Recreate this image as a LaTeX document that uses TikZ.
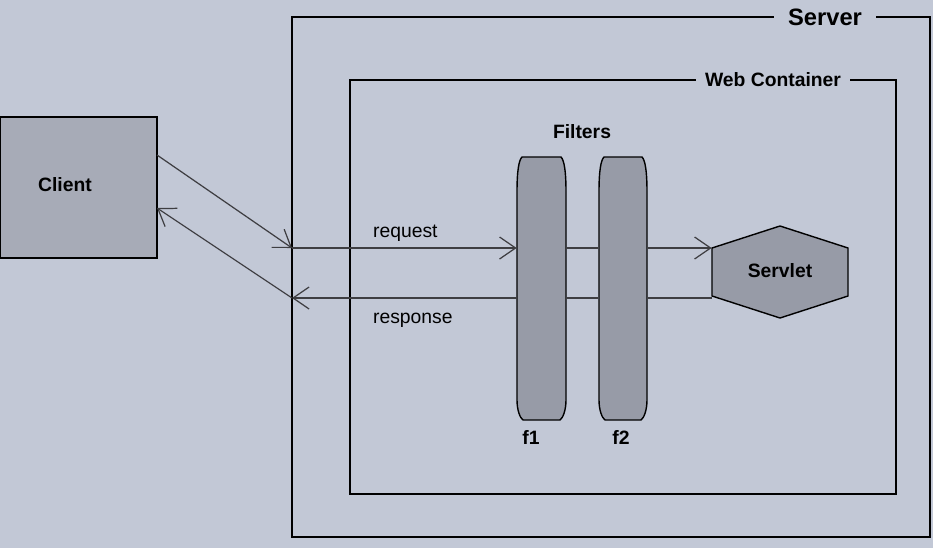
\documentclass[tikz,border=0pt]{standalone}
\usepackage{fontspec}
\setmainfont{Liberation Sans}
\usepackage{tikz}
\usetikzlibrary{arrows.meta,positioning}
\usepackage{xcolor}
\definecolor{bgblue}{RGB}{194,200,214}
\definecolor{clientgray}{RGB}{167,171,183}
\definecolor{filtergray}{RGB}{151,155,167}
\definecolor{linegray}{RGB}{62,62,66}
\tikzstyle{arrow} = [->,>={Straight Barb[length=3.2mm,width=4.4mm]},color=linegray,line width=0.7pt]
\tikzstyle{wire} = [color=linegray,line width=0.7pt]
\tikzstyle{container} = [rectangle, draw=black, line width=0.8pt, inner sep=0pt]
\tikzstyle{boldtext} = [font=\bfseries\fontsize{11}{13}\selectfont, inner sep=1pt]
\tikzstyle{plaintext} = [font=\fontsize{11}{13}\selectfont, inner sep=1pt]
\tikzstyle{boxlabel} = [boldtext, fill=bgblue, inner ysep=2pt]
\tikzstyle{filterbox} = [rectangle, minimum width=0.98cm, minimum height=5.26cm, inner sep=0pt]
\tikzstyle{filterbody} = [draw=black, line width=0.8pt, fill=filtergray]

\begin{document}
\begin{tikzpicture}[x=0.02cm, y=-0.02cm]
    % Background
    \fill[bgblue] (0,0) rectangle (933,548);
    \useasboundingbox (0,0) rectangle (933,548);

    % Server and web container
    \node[container, minimum width=12.76cm, minimum height=10.4cm] (server) at (611,277) {};
    \node[container, minimum width=10.92cm, minimum height=8.28cm] (web) at (623,287) {};
    \node[boxlabel, font=\bfseries\fontsize{13.5}{16}\selectfont, inner xsep=8pt] (serverlabel) at (825,17) {Server};
    \node[boxlabel, inner xsep=5pt] (weblabel) at (773,80) {Web Container};

    % Client
    \node[container, fill=clientgray, minimum width=3.14cm, minimum height=2.82cm] (client) at (78.5,187.5) {};
    \node[boldtext] (clientlabel) at (65,185) {Client};

    % Filters
    \node[boldtext] (filters) at (582,132) {Filters};
    \node[filterbox] (f1) at (541.5,288.5) {};
    \node[filterbox] (f2) at (623,288.5) {};
    \path[filterbody] (517,192) .. controls (517,170) and (519,160) .. (522,157) -- (561,157)
        .. controls (564,160) and (566,170) .. (566,192) -- (566,400)
        .. controls (566,410) and (563,418) .. (560,420) -- (523,420)
        .. controls (520,418) and (517,410) .. (517,400) -- cycle;
    \path[filterbody] (599,192) .. controls (599,170) and (601,160) .. (604,157) -- (642,157)
        .. controls (645,160) and (647,170) .. (647,192) -- (647,400)
        .. controls (647,410) and (644,418) .. (641,420) -- (605,420)
        .. controls (602,418) and (599,410) .. (599,400) -- cycle;
    \node[boldtext] (f1label) at (531,437) {f1};
    \node[boldtext] (f2label) at (621,437) {f2};

    % Servlet
    \path[filterbody] (712,248) -- (780,226) -- (848,248) -- (848,296) -- (780,318) -- (712,296) -- cycle;
    \node[boldtext, minimum width=2.72cm, minimum height=1.84cm, inner sep=0pt] (servlet) at (780,271) {Servlet};

    % Request and response
    \coordinate (reqin) at (292,248);
    \coordinate (respout) at (292,298);
    \coordinate (cout) at (157,155);
    \coordinate (cin) at (157,208);
    \draw[arrow] (cout) -- (reqin);
    \draw[arrow] (reqin) -- (reqin -| f1.west);
    \draw[wire] (reqin -| f1.east) -- (reqin -| f2.west);
    \draw[arrow] (reqin -| f2.east) -- (reqin -| servlet.west);
    \draw[wire] (respout -| servlet.west) -- (respout -| f2.east);
    \draw[wire] (respout -| f2.west) -- (respout -| f1.east);
    \draw[arrow] (respout -| f1.west) -- (respout);
    \draw[arrow] (respout) -- (cin);
    \node[plaintext, anchor=west] (request) at (371,233) {request};
    \node[plaintext, anchor=west] (response) at (371,320) {response};
\end{tikzpicture}
\end{document}
